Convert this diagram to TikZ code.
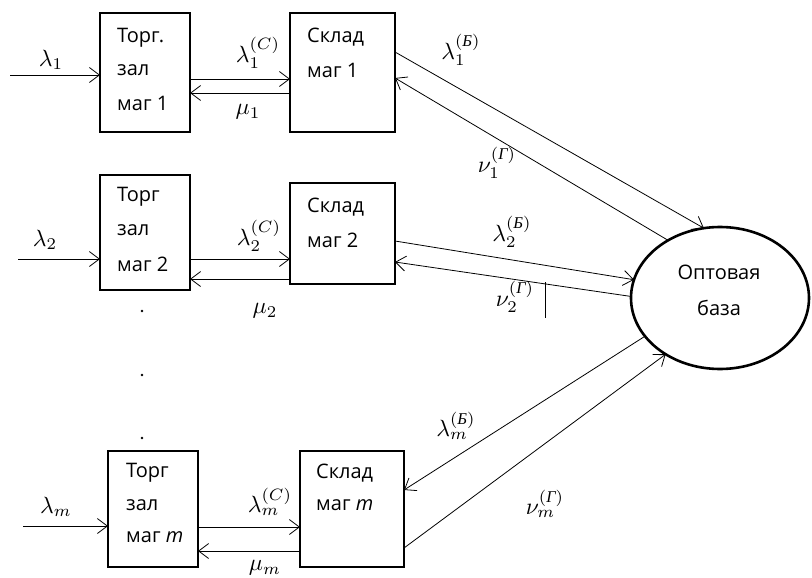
\documentclass[tikz,border=0pt]{standalone}
\usepackage{amsmath}
\usepackage[no-math]{fontspec}
\setmainfont{Open Sans}
\newfontfamily\tnr{Liberation Serif}
\usetikzlibrary{arrows.meta,shapes.geometric}
\newcommand{\cyrB}{\text{\tnr\itshape Б}}
\newcommand{\cyrG}{\text{\tnr\itshape Г}}
\newcommand{\lblmath}[1]{\scalebox{2.35}{$#1$}}
\begin{document}
\begin{tikzpicture}[x=1pt,y=-1pt,
  box/.style={draw, line width=1.1pt, inner sep=0pt, outer sep=0pt},
  txt/.style={anchor=west, inner sep=0pt, font=\fontsize{20}{24}\selectfont},
  ctxt/.style={inner sep=0pt, font=\fontsize{20}{24}\selectfont},
  lbl/.style={inner sep=0pt},
  arr/.style={-{Straight Barb[length=10pt,width=15pt]}, line width=0.8pt},
  base/.style={draw, ellipse, line width=2.6pt, inner sep=0pt, outer sep=0pt,
    minimum width=178pt, minimum height=142pt},
  dot/.style={circle, fill, inner sep=0pt, minimum size=2.6pt}]
\useasboundingbox (0,0) rectangle (812,578);
% boxes
\node[box, minimum width=90pt, minimum height=119pt] (t1) at (145,72.5) {};
\node[box, minimum width=105pt, minimum height=119pt] (s1) at (342.5,72.5) {};
\node[box, minimum width=90pt, minimum height=115pt] (t2) at (145,232.5) {};
\node[box, minimum width=105pt, minimum height=101pt] (s2) at (342.5,233.5) {};
\node[box, minimum width=90pt, minimum height=116pt] (tm) at (153,509) {};
\node[box, minimum width=104pt, minimum height=116pt] (sm) at (352,509) {};
\node[base] (base) at (720,298) {};
\node[ctxt] (b1) at (719,272) {Оптовая};
\node[ctxt] (b2) at (719,308) {база};
% box texts
\node[txt] (t1a) at (117,38) {Торг.};
\node[txt] (t1b) at (117,70) {зал};
\node[txt] (t1c) at (117,103) {маг 1};
\node[txt] (s1a) at (307,37) {Склад};
\node[txt] (s1b) at (307,70) {маг 1};
\node[txt] (t2a) at (117,197) {Торг};
\node[txt] (t2b) at (117,230) {зал};
\node[txt] (t2c) at (117,264) {маг 2};
\node[txt] (s2a) at (307,207) {Склад};
\node[txt] (s2b) at (307,240) {маг 2};
\node[txt] (tma) at (126,473) {Торг};
\node[txt] (tmb) at (126,505) {зал};
\node[txt] (tmc) at (126,537) {маг \textit{m}};
\node[txt] (sma) at (316,473) {Склад};
\node[txt] (smb) at (316,505) {маг \textit{m}};
% dots
\node[dot] (d1) at (142,311) {};
\node[dot] (d2) at (142,375) {};
\node[dot] (d3) at (142,438) {};
% inputs
\coordinate (in1) at (10,75);
\coordinate (in2) at (18,259);
\coordinate (inm) at (23,526);
\draw[arr] (in1) -- (in1 -| t1.west);
\draw[arr] (in2) -- (in2 -| t2.west);
\draw[arr] (inm) -- (inm -| tm.west);
% between boxes
\draw[arr] (t1.east |- 0,79) -- (s1.west |- 0,79);
\draw[arr] (s1.west |- 0,93) -- (t1.east |- 0,93);
\draw[arr] (t2.east |- 0,259) -- (s2.west |- 0,259);
\draw[arr] (s2.west |- 0,279) -- (t2.east |- 0,279);
\draw[arr] (tm.east |- 0,527) -- (sm.west |- 0,527);
\draw[arr] (sm.west |- 0,551) -- (tm.east |- 0,551);
% to/from base
\draw[arr] (s1.east |- 0,52) -- (base.103);
\draw[arr] (base.132) -- (s1.east |- 0,78);
\draw[arr] (s2.east |- 0,241) -- (base.168);
\draw[arr] (base.179) -- (s2.east |- 0,262);
\draw[arr] (base.207) -- (sm.east |- 0,490);
\draw[arr] (sm.east |- 0,548) -- (base.226);
% stray bar
\coordinate (bar1) at (545,282);
\coordinate (bar2) at (545,318);
\draw[line width=0.8pt] (bar1) -- (bar2);
% labels
\node[lbl] (l1) at (51,60) {\lblmath{\lambda_1}};
\node[lbl] (l2) at (45,240) {\lblmath{\lambda_2}};
\node[lbl] (lm) at (56,507) {\lblmath{\lambda_m}};
\node[lbl] (lc1) at (258,53) {\lblmath{\lambda_1^{(C)}}};
\node[lbl] (lc2) at (259,236) {\lblmath{\lambda_2^{(C)}}};
\node[lbl] (lcm) at (270,502) {\lblmath{\lambda_m^{(C)}}};
\node[lbl] (mu1) at (248,112) {\lblmath{\mu_1}};
\node[lbl] (mu2) at (265,311) {\lblmath{\mu_2}};
\node[lbl] (mum) at (265,568) {\lblmath{\mu_m}};
\node[lbl] (lb1) at (461,50) {\lblmath{\lambda_1^{(\cyrB)}}};
\node[lbl] (nu1) at (497,163) {\lblmath{\nu_1^{(\cyrG)}}};
\node[lbl] (lb2) at (512,232) {\lblmath{\lambda_2^{(\cyrB)}}};
\node[lbl] (nu2) at (515,297) {\lblmath{\nu_2^{(\cyrG)}}};
\node[lbl] (lbm) at (456,426) {\lblmath{\lambda_m^{(\cyrB)}}};
\node[lbl] (num) at (545,504) {\lblmath{\nu_m^{(\cyrG)}}};
\end{tikzpicture}
\end{document}
